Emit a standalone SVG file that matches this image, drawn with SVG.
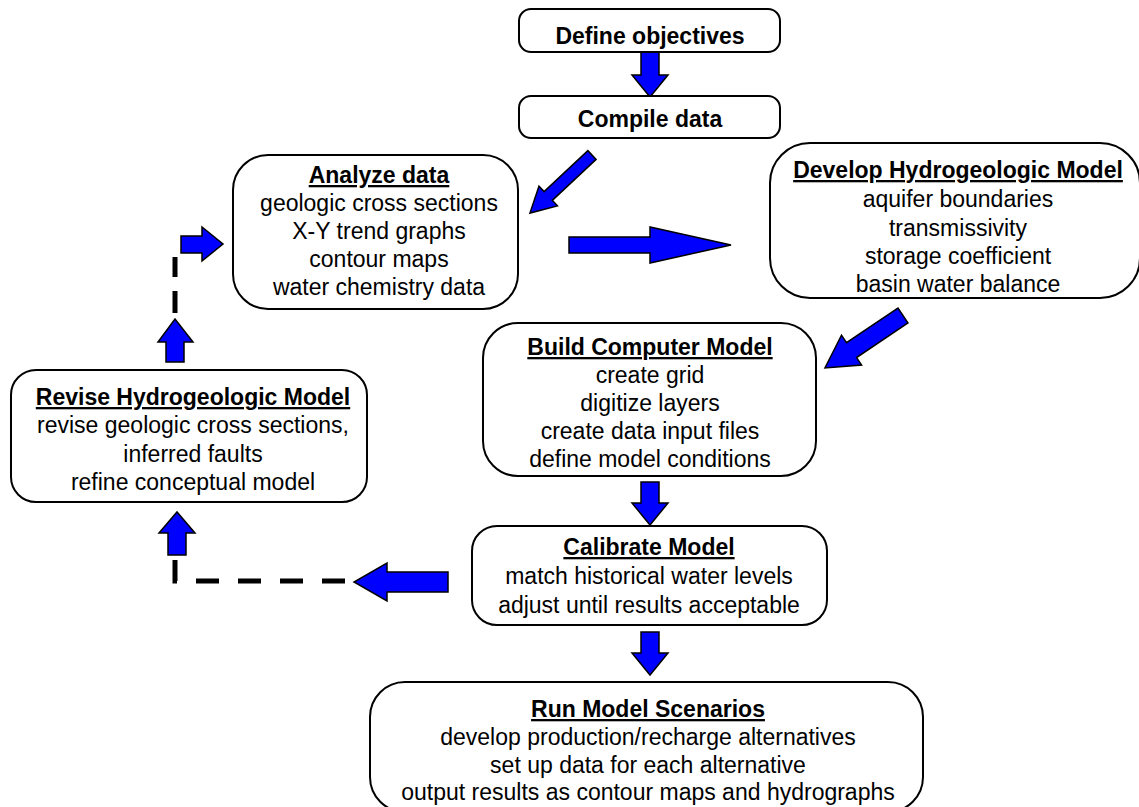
<svg xmlns="http://www.w3.org/2000/svg" width="1139" height="807" viewBox="0 0 1139 807">
<style>
.box{fill:#fff;stroke:#000;stroke-width:2}
.t{font-family:"Liberation Sans",Arial,sans-serif;font-size:23px;fill:#000;text-anchor:middle}
.h{font-weight:bold}
.u{text-decoration:underline}
.arr{fill:#0000ff;stroke:#000;stroke-width:1.5;stroke-linejoin:miter}
.dash{fill:none;stroke:#000;stroke-width:5;stroke-dasharray:23 19}
</style>
<rect width="1139" height="807" fill="#fff"/>
<g id="connectors">
<path class="dash" d="M345,581 L175,581 L175,556"/>
<path class="dash" d="M175,313 L175,257" style="stroke-dasharray:22 14"/>
<polygon class="arr" points="641,52 659,52 659,75 668,75 650,97 632,75 641,75"/>
<polygon class="arr" points="0,-6 60,-6 60,-13.5 85,0 60,13.5 60,6 0,6" transform="translate(592,155) rotate(136.9)"/>
<polygon class="arr" points="569,237 650,237 650,227 731,245 650,263 650,253 569,253"/>
<polygon class="arr" points="0,-9 62,-9 62,-18 94,0 62,18 62,9 0,9" transform="translate(903,315.5) rotate(146.1)"/>
<polygon class="arr" points="641,482 659,482 659,503 668,503 650,525 632,503 641,503"/>
<polygon class="arr" points="641,632 659,632 659,653 668,653 650,675 632,653 641,653"/>
<polygon class="arr" points="448,572 387,572 387,563 354,582 387,601 387,592 448,592"/>
<polygon class="arr" points="168,555 168,533 159,533 177,512 195,533 186,533 186,555"/>
<polygon class="arr" points="166,362 166,342 158,342 175,319 193,342 184,342 184,362"/>
<polygon class="arr" points="181,236 202,236 202,227 223,244 202,261 202,253 181,253"/>
</g>
<g id="define">
<rect class="box" x="519" y="9" width="261" height="43" rx="12"/>
<text class="t h" x="650" y="44">Define objectives</text>
</g>
<g id="compile">
<rect class="box" x="519" y="96" width="261" height="42" rx="12"/>
<text class="t h" x="650" y="127">Compile data</text>
</g>
<g id="analyze">
<rect class="box" x="233" y="155" width="285" height="154" rx="35"/>
<text class="t h u" x="379" y="183">Analyze data</text>
<text class="t" x="379" y="211">geologic cross sections</text>
<text class="t" x="379" y="239">X-Y trend graphs</text>
<text class="t" x="379" y="267">contour maps</text>
<text class="t" x="379" y="295">water chemistry data</text>
</g>
<g id="develop">
<rect class="box" x="770" y="143" width="370" height="155" rx="40"/>
<text class="t h u" x="958" y="178">Develop Hydrogeologic Model</text>
<text class="t" x="958" y="207">aquifer boundaries</text>
<text class="t" x="958" y="236">transmissivity</text>
<text class="t" x="958" y="264">storage coefficient</text>
<text class="t" x="958" y="292">basin water balance</text>
</g>
<g id="build">
<rect class="box" x="483" y="323" width="333" height="153" rx="35"/>
<text class="t h u" x="650" y="355">Build Computer Model</text>
<text class="t" x="650" y="383">create grid</text>
<text class="t" x="650" y="411">digitize layers</text>
<text class="t" x="650" y="439">create data input files</text>
<text class="t" x="650" y="467">define model conditions</text>
</g>
<g id="calibrate">
<rect class="box" x="472" y="526" width="355" height="99" rx="25"/>
<text class="t h u" x="649" y="555">Calibrate Model</text>
<text class="t" x="649" y="584">match historical water levels</text>
<text class="t" x="649" y="613">adjust until results acceptable</text>
</g>
<g id="revise">
<rect class="box" x="11" y="370" width="356" height="132" rx="25"/>
<text class="t h u" x="193" y="405">Revise Hydrogeologic Model</text>
<text class="t" x="193" y="433">revise geologic cross sections,</text>
<text class="t" x="193" y="462">inferred faults</text>
<text class="t" x="193" y="490">refine conceptual model</text>
</g>
<g id="run">
<rect class="box" x="370" y="682" width="553" height="130" rx="35"/>
<text class="t h u" x="648" y="717">Run Model Scenarios</text>
<text class="t" x="648" y="745">develop production/recharge alternatives</text>
<text class="t" x="648" y="773">set up data for each alternative</text>
<text class="t" x="648" y="800">output results as contour maps and hydrographs</text>
</g>
</svg>
